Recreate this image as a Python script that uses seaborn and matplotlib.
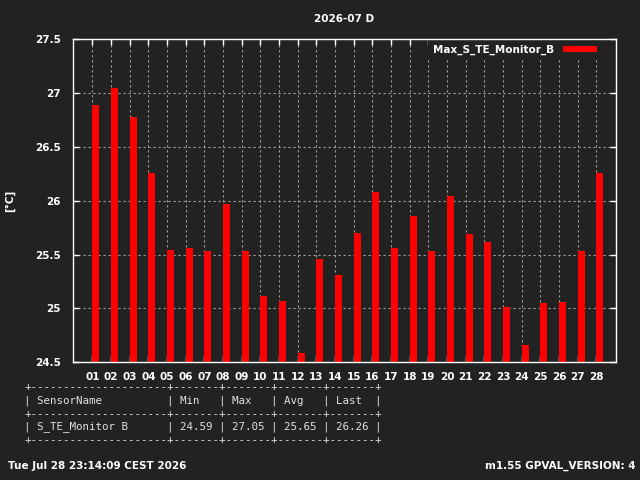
import matplotlib
matplotlib.use("Agg")
import matplotlib.pyplot as plt
import seaborn as sns
import pandas as pd
import numpy as np

days = ["01", "02", "03", "04", "05", "06", "07", "08", "09", "10", "11", "12", "13", "14",
        "15", "16", "17", "18", "19", "20", "21", "22", "23", "24", "25", "26", "27", "28"]
max_temp = [26.89, 27.05, 26.78, 26.26, 25.54, 25.56, 25.53, 25.97, 25.53, 25.12, 25.07, 24.59, 25.46, 25.31,
            25.70, 26.08, 25.56, 25.86, 25.53, 26.04, 25.69, 25.62, 25.01, 24.66, 25.05, 25.06, 25.53, 26.26]
y_ticks = [24.5, 25, 25.5, 26, 26.5, 27, 27.5]
y_tick_labels = ["24.5", "25", "25.5", "26", "26.5", "27", "27.5"]
title = "2026-07 D"
series_name = "Max_S_TE_Monitor_B"
ylabel = "[°C]"
table_lines = [
    "+---------------------+-------+-------+-------+-------+",
    "| SensorName          | Min   | Max   | Avg   | Last  |",
    "+---------------------+-------+-------+-------+-------+",
    "| S_TE_Monitor B      | 24.59 | 27.05 | 25.65 | 26.26 |",
    "+---------------------+-------+-------+-------+-------+",
]
footer_left = "Tue Jul 28 23:14:09 CEST 2026"
footer_right = "m1.55 GPVAL_VERSION: 4"

BG = "#222222"
FG = "#ffffff"
GRID = "#a0a0a0"
RED = "#ff0000"

sns.set_theme(style="dark")
plt.rcParams["font.family"] = ["DejaVu Sans"]

fig = plt.figure(figsize=(6.4, 4.8), dpi=100, facecolor=BG)
W, H = 640.0, 480.0
L, R, T, B = 73.3, 615.7, 39.3, 362.3
ax = fig.add_axes([L / W, 1 - B / H, (R - L) / W, (B - T) / H])
ax.set_facecolor(BG)

df = pd.DataFrame({"day": days, "value": max_temp})
bar_w = 0.375
sns.barplot(data=df, x="day", y="value", color=RED, width=bar_w, saturation=1,
            ax=ax, label=series_name, zorder=3)
# gnuplot-style: bars start at the tick and extend to the right
for p in ax.patches:
    p.set_x(p.get_x() + bar_w / 2)
    p.set_edgecolor("none")

ax.set_xlim(-1.02, len(days) - 1 + 1.04)
ax.set_ylim(24.5, 27.5)
ax.set_yticks(y_ticks)
ax.set_yticklabels(y_tick_labels)
ax.set_xlabel("")
ax.set_ylabel("")

for s in ax.spines.values():
    s.set_visible(True)
    s.set_color(FG)
    s.set_linewidth(1.0)
    s.set_zorder(10)

ax.grid(True, color=GRID, linestyle=(0, (2, 2.5)), linewidth=0.8, zorder=1)
ax.set_axisbelow(True)
ax.tick_params(axis="both", direction="in", length=4, width=1, color=FG,
               labelcolor=FG, labelsize=7.5, top=True, right=True,
               bottom=True, left=True)
ax.tick_params(axis="y", pad=9)
ax.tick_params(axis="x", pad=7)
for lab in ax.get_xticklabels() + ax.get_yticklabels():
    lab.set_fontweight("bold")

leg = ax.legend(loc="upper right", bbox_to_anchor=(0.975, 0.998), borderaxespad=0,
                borderpad=0.45, frameon=True, fancybox=False, framealpha=1,
                facecolor=BG, edgecolor="none", markerfirst=False,
                handlelength=3.3, handleheight=0.6, handletextpad=0.9,
                prop={"weight": "bold", "size": 7.5})
for t in leg.get_texts():
    t.set_color(FG)
leg.set_zorder(5)

fig.text((L + R) / 2 / W, 1 - 19 / H, title, color=FG, fontsize=7.5, fontweight="bold",
         ha="center", va="center")
fig.text(10 / W, 1 - 201 / H, ylabel, color=FG, fontsize=7.5, fontweight="bold",
         rotation=90, ha="center", va="center")

for i, line in enumerate(table_lines):
    fig.text(24.5 / W, 1 - (387 + i * 13.3) / H, line, color="#e0e0e0",
             fontsize=7.8, family="DejaVu Sans Mono", ha="left", va="center")

fig.text(8.5 / W, 1 - 466 / H, footer_left, color=FG, fontsize=7.5, fontweight="bold",
         ha="left", va="center")
fig.text(636 / W, 1 - 466 / H, footer_right, color=FG, fontsize=7.5, fontweight="bold",
         ha="right", va="center")

fig.savefig("out.png", dpi=100, facecolor=BG)
